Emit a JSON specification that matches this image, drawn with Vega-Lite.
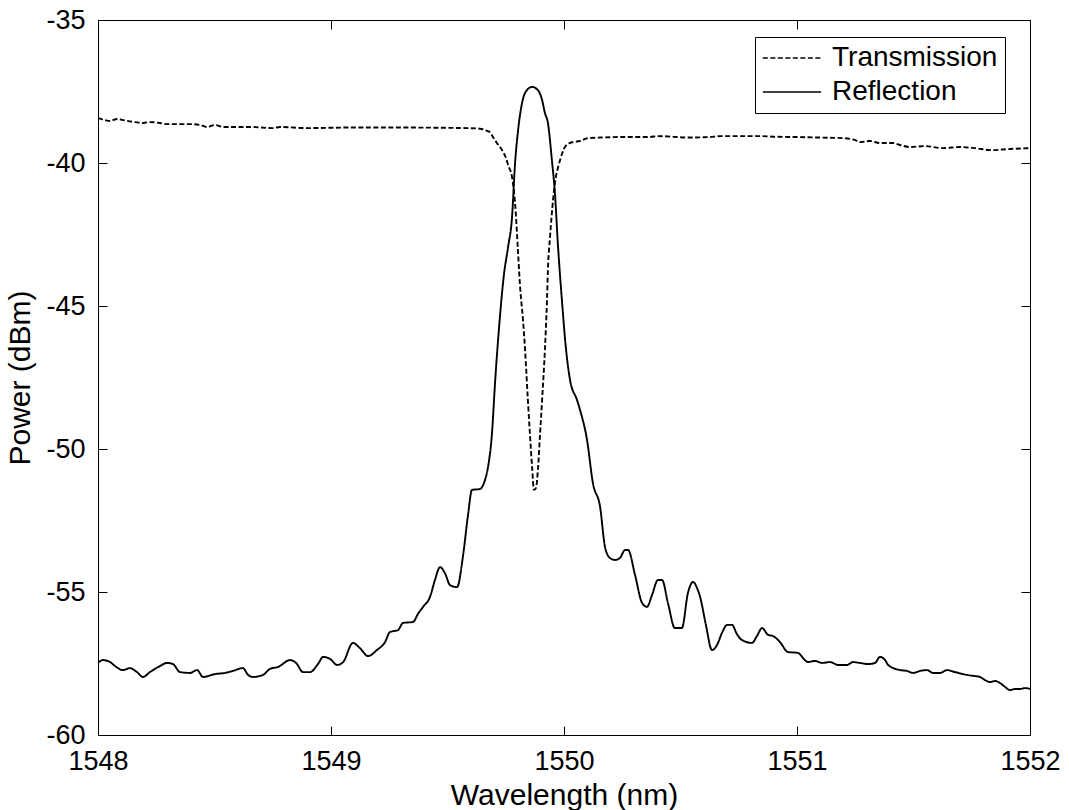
{
  "$schema": "https://vega.github.io/schema/vega-lite/v6.json",
  "width": 932,
  "height": 715,
  "autosize": {"type": "none"},
  "padding": {"left": 98, "top": 20, "right": 39, "bottom": 75},
  "background": "white",
  "config": {
    "view": {"stroke": "black", "strokeWidth": 1},
    "font": "Liberation Sans",
    "axis": {"grid": false, "domainColor": "black", "tickColor": "black", "labelColor": "black", "titleColor": "black", "labelFont": "Liberation Sans", "titleFont": "Liberation Sans", "labelFontSize": 27, "titleFontSize": 30, "titleFontWeight": "normal", "tickSize": -9, "labelPadding": 22, "labelFlush": false, "labelExpr": "toString(datum.value)"}
  },
  "datasets": {
    "spec": [
      {"wl": 1548.000, "p": -38.43, "s": "Transmission"},
      {"wl": 1548.030, "p": -38.50, "s": "Transmission"},
      {"wl": 1548.052, "p": -38.53, "s": "Transmission"},
      {"wl": 1548.082, "p": -38.46, "s": "Transmission"},
      {"wl": 1548.107, "p": -38.50, "s": "Transmission"},
      {"wl": 1548.159, "p": -38.57, "s": "Transmission"},
      {"wl": 1548.193, "p": -38.60, "s": "Transmission"},
      {"wl": 1548.223, "p": -38.57, "s": "Transmission"},
      {"wl": 1548.266, "p": -38.60, "s": "Transmission"},
      {"wl": 1548.296, "p": -38.64, "s": "Transmission"},
      {"wl": 1548.352, "p": -38.64, "s": "Transmission"},
      {"wl": 1548.395, "p": -38.64, "s": "Transmission"},
      {"wl": 1548.438, "p": -38.67, "s": "Transmission"},
      {"wl": 1548.468, "p": -38.74, "s": "Transmission"},
      {"wl": 1548.502, "p": -38.67, "s": "Transmission"},
      {"wl": 1548.536, "p": -38.74, "s": "Transmission"},
      {"wl": 1548.652, "p": -38.74, "s": "Transmission"},
      {"wl": 1548.751, "p": -38.78, "s": "Transmission"},
      {"wl": 1548.781, "p": -38.74, "s": "Transmission"},
      {"wl": 1548.897, "p": -38.78, "s": "Transmission"},
      {"wl": 1549.082, "p": -38.76, "s": "Transmission"},
      {"wl": 1549.296, "p": -38.76, "s": "Transmission"},
      {"wl": 1549.584, "p": -38.78, "s": "Transmission"},
      {"wl": 1549.639, "p": -38.80, "s": "Transmission"},
      {"wl": 1549.670, "p": -38.88, "s": "Transmission"},
      {"wl": 1549.682, "p": -38.92, "s": "Transmission"},
      {"wl": 1549.695, "p": -39.09, "s": "Transmission"},
      {"wl": 1549.712, "p": -39.30, "s": "Transmission"},
      {"wl": 1549.734, "p": -39.55, "s": "Transmission"},
      {"wl": 1549.751, "p": -39.83, "s": "Transmission"},
      {"wl": 1549.760, "p": -40.07, "s": "Transmission"},
      {"wl": 1549.777, "p": -40.49, "s": "Transmission"},
      {"wl": 1549.790, "p": -41.40, "s": "Transmission"},
      {"wl": 1549.803, "p": -43.15, "s": "Transmission"},
      {"wl": 1549.811, "p": -44.27, "s": "Transmission"},
      {"wl": 1549.824, "p": -45.49, "s": "Transmission"},
      {"wl": 1549.833, "p": -46.54, "s": "Transmission"},
      {"wl": 1549.845, "p": -48.29, "s": "Transmission"},
      {"wl": 1549.854, "p": -49.51, "s": "Transmission"},
      {"wl": 1549.863, "p": -50.63, "s": "Transmission"},
      {"wl": 1549.871, "p": -51.43, "s": "Transmission"},
      {"wl": 1549.880, "p": -51.36, "s": "Transmission"},
      {"wl": 1549.888, "p": -50.73, "s": "Transmission"},
      {"wl": 1549.897, "p": -49.51, "s": "Transmission"},
      {"wl": 1549.906, "p": -48.29, "s": "Transmission"},
      {"wl": 1549.918, "p": -46.54, "s": "Transmission"},
      {"wl": 1549.927, "p": -44.79, "s": "Transmission"},
      {"wl": 1549.931, "p": -43.74, "s": "Transmission"},
      {"wl": 1549.940, "p": -42.59, "s": "Transmission"},
      {"wl": 1549.953, "p": -41.29, "s": "Transmission"},
      {"wl": 1549.961, "p": -40.70, "s": "Transmission"},
      {"wl": 1549.974, "p": -40.17, "s": "Transmission"},
      {"wl": 1549.983, "p": -39.90, "s": "Transmission"},
      {"wl": 1550.004, "p": -39.44, "s": "Transmission"},
      {"wl": 1550.026, "p": -39.30, "s": "Transmission"},
      {"wl": 1550.039, "p": -39.27, "s": "Transmission"},
      {"wl": 1550.069, "p": -39.23, "s": "Transmission"},
      {"wl": 1550.103, "p": -39.13, "s": "Transmission"},
      {"wl": 1550.155, "p": -39.11, "s": "Transmission"},
      {"wl": 1550.270, "p": -39.09, "s": "Transmission"},
      {"wl": 1550.369, "p": -39.09, "s": "Transmission"},
      {"wl": 1550.403, "p": -39.06, "s": "Transmission"},
      {"wl": 1550.541, "p": -39.11, "s": "Transmission"},
      {"wl": 1550.627, "p": -39.09, "s": "Transmission"},
      {"wl": 1550.670, "p": -39.06, "s": "Transmission"},
      {"wl": 1550.841, "p": -39.06, "s": "Transmission"},
      {"wl": 1550.906, "p": -39.08, "s": "Transmission"},
      {"wl": 1550.983, "p": -39.09, "s": "Transmission"},
      {"wl": 1551.099, "p": -39.11, "s": "Transmission"},
      {"wl": 1551.197, "p": -39.13, "s": "Transmission"},
      {"wl": 1551.249, "p": -39.20, "s": "Transmission"},
      {"wl": 1551.270, "p": -39.27, "s": "Transmission"},
      {"wl": 1551.313, "p": -39.23, "s": "Transmission"},
      {"wl": 1551.356, "p": -39.30, "s": "Transmission"},
      {"wl": 1551.412, "p": -39.30, "s": "Transmission"},
      {"wl": 1551.442, "p": -39.37, "s": "Transmission"},
      {"wl": 1551.485, "p": -39.44, "s": "Transmission"},
      {"wl": 1551.549, "p": -39.41, "s": "Transmission"},
      {"wl": 1551.627, "p": -39.48, "s": "Transmission"},
      {"wl": 1551.700, "p": -39.44, "s": "Transmission"},
      {"wl": 1551.764, "p": -39.48, "s": "Transmission"},
      {"wl": 1551.833, "p": -39.55, "s": "Transmission"},
      {"wl": 1551.914, "p": -39.51, "s": "Transmission"},
      {"wl": 1552.000, "p": -39.48, "s": "Transmission"},
      {"wl": 1548.000, "p": -57.48, "s": "Reflection"},
      {"wl": 1548.021, "p": -57.38, "s": "Reflection"},
      {"wl": 1548.052, "p": -57.45, "s": "Reflection"},
      {"wl": 1548.073, "p": -57.59, "s": "Reflection"},
      {"wl": 1548.107, "p": -57.73, "s": "Reflection"},
      {"wl": 1548.137, "p": -57.66, "s": "Reflection"},
      {"wl": 1548.167, "p": -57.80, "s": "Reflection"},
      {"wl": 1548.193, "p": -57.97, "s": "Reflection"},
      {"wl": 1548.223, "p": -57.80, "s": "Reflection"},
      {"wl": 1548.266, "p": -57.59, "s": "Reflection"},
      {"wl": 1548.296, "p": -57.48, "s": "Reflection"},
      {"wl": 1548.322, "p": -57.52, "s": "Reflection"},
      {"wl": 1548.352, "p": -57.80, "s": "Reflection"},
      {"wl": 1548.395, "p": -57.83, "s": "Reflection"},
      {"wl": 1548.425, "p": -57.73, "s": "Reflection"},
      {"wl": 1548.451, "p": -57.97, "s": "Reflection"},
      {"wl": 1548.502, "p": -57.87, "s": "Reflection"},
      {"wl": 1548.545, "p": -57.83, "s": "Reflection"},
      {"wl": 1548.579, "p": -57.76, "s": "Reflection"},
      {"wl": 1548.622, "p": -57.66, "s": "Reflection"},
      {"wl": 1548.644, "p": -57.90, "s": "Reflection"},
      {"wl": 1548.665, "p": -57.97, "s": "Reflection"},
      {"wl": 1548.708, "p": -57.90, "s": "Reflection"},
      {"wl": 1548.738, "p": -57.69, "s": "Reflection"},
      {"wl": 1548.773, "p": -57.62, "s": "Reflection"},
      {"wl": 1548.824, "p": -57.38, "s": "Reflection"},
      {"wl": 1548.850, "p": -57.48, "s": "Reflection"},
      {"wl": 1548.880, "p": -57.80, "s": "Reflection"},
      {"wl": 1548.910, "p": -57.80, "s": "Reflection"},
      {"wl": 1548.944, "p": -57.52, "s": "Reflection"},
      {"wl": 1548.966, "p": -57.27, "s": "Reflection"},
      {"wl": 1548.996, "p": -57.34, "s": "Reflection"},
      {"wl": 1549.026, "p": -57.55, "s": "Reflection"},
      {"wl": 1549.052, "p": -57.45, "s": "Reflection"},
      {"wl": 1549.094, "p": -56.78, "s": "Reflection"},
      {"wl": 1549.124, "p": -56.96, "s": "Reflection"},
      {"wl": 1549.159, "p": -57.24, "s": "Reflection"},
      {"wl": 1549.197, "p": -57.03, "s": "Reflection"},
      {"wl": 1549.232, "p": -56.75, "s": "Reflection"},
      {"wl": 1549.253, "p": -56.40, "s": "Reflection"},
      {"wl": 1549.288, "p": -56.33, "s": "Reflection"},
      {"wl": 1549.309, "p": -56.08, "s": "Reflection"},
      {"wl": 1549.352, "p": -56.05, "s": "Reflection"},
      {"wl": 1549.373, "p": -55.77, "s": "Reflection"},
      {"wl": 1549.395, "p": -55.52, "s": "Reflection"},
      {"wl": 1549.425, "p": -55.17, "s": "Reflection"},
      {"wl": 1549.446, "p": -54.58, "s": "Reflection"},
      {"wl": 1549.468, "p": -54.13, "s": "Reflection"},
      {"wl": 1549.489, "p": -54.34, "s": "Reflection"},
      {"wl": 1549.511, "p": -54.76, "s": "Reflection"},
      {"wl": 1549.541, "p": -54.83, "s": "Reflection"},
      {"wl": 1549.567, "p": -53.71, "s": "Reflection"},
      {"wl": 1549.588, "p": -52.31, "s": "Reflection"},
      {"wl": 1549.605, "p": -51.43, "s": "Reflection"},
      {"wl": 1549.639, "p": -51.40, "s": "Reflection"},
      {"wl": 1549.661, "p": -51.08, "s": "Reflection"},
      {"wl": 1549.674, "p": -50.63, "s": "Reflection"},
      {"wl": 1549.691, "p": -49.44, "s": "Reflection"},
      {"wl": 1549.704, "p": -47.69, "s": "Reflection"},
      {"wl": 1549.725, "p": -45.38, "s": "Reflection"},
      {"wl": 1549.742, "p": -43.92, "s": "Reflection"},
      {"wl": 1549.760, "p": -42.94, "s": "Reflection"},
      {"wl": 1549.777, "p": -41.89, "s": "Reflection"},
      {"wl": 1549.790, "p": -40.00, "s": "Reflection"},
      {"wl": 1549.803, "p": -38.85, "s": "Reflection"},
      {"wl": 1549.820, "p": -37.90, "s": "Reflection"},
      {"wl": 1549.841, "p": -37.45, "s": "Reflection"},
      {"wl": 1549.863, "p": -37.34, "s": "Reflection"},
      {"wl": 1549.888, "p": -37.45, "s": "Reflection"},
      {"wl": 1549.906, "p": -37.80, "s": "Reflection"},
      {"wl": 1549.918, "p": -38.25, "s": "Reflection"},
      {"wl": 1549.931, "p": -38.60, "s": "Reflection"},
      {"wl": 1549.948, "p": -39.90, "s": "Reflection"},
      {"wl": 1549.961, "p": -41.05, "s": "Reflection"},
      {"wl": 1549.974, "p": -42.87, "s": "Reflection"},
      {"wl": 1549.991, "p": -44.79, "s": "Reflection"},
      {"wl": 1550.009, "p": -46.54, "s": "Reflection"},
      {"wl": 1550.026, "p": -47.59, "s": "Reflection"},
      {"wl": 1550.056, "p": -48.29, "s": "Reflection"},
      {"wl": 1550.069, "p": -48.64, "s": "Reflection"},
      {"wl": 1550.099, "p": -49.69, "s": "Reflection"},
      {"wl": 1550.124, "p": -51.19, "s": "Reflection"},
      {"wl": 1550.155, "p": -52.03, "s": "Reflection"},
      {"wl": 1550.176, "p": -53.43, "s": "Reflection"},
      {"wl": 1550.197, "p": -53.81, "s": "Reflection"},
      {"wl": 1550.219, "p": -53.88, "s": "Reflection"},
      {"wl": 1550.240, "p": -53.81, "s": "Reflection"},
      {"wl": 1550.262, "p": -53.53, "s": "Reflection"},
      {"wl": 1550.275, "p": -53.53, "s": "Reflection"},
      {"wl": 1550.305, "p": -54.41, "s": "Reflection"},
      {"wl": 1550.335, "p": -55.38, "s": "Reflection"},
      {"wl": 1550.356, "p": -55.52, "s": "Reflection"},
      {"wl": 1550.378, "p": -55.10, "s": "Reflection"},
      {"wl": 1550.403, "p": -54.58, "s": "Reflection"},
      {"wl": 1550.421, "p": -54.58, "s": "Reflection"},
      {"wl": 1550.446, "p": -55.38, "s": "Reflection"},
      {"wl": 1550.476, "p": -56.26, "s": "Reflection"},
      {"wl": 1550.506, "p": -56.26, "s": "Reflection"},
      {"wl": 1550.532, "p": -55.03, "s": "Reflection"},
      {"wl": 1550.554, "p": -54.65, "s": "Reflection"},
      {"wl": 1550.571, "p": -54.86, "s": "Reflection"},
      {"wl": 1550.584, "p": -55.17, "s": "Reflection"},
      {"wl": 1550.609, "p": -56.15, "s": "Reflection"},
      {"wl": 1550.635, "p": -57.03, "s": "Reflection"},
      {"wl": 1550.657, "p": -56.85, "s": "Reflection"},
      {"wl": 1550.678, "p": -56.43, "s": "Reflection"},
      {"wl": 1550.700, "p": -56.15, "s": "Reflection"},
      {"wl": 1550.721, "p": -56.15, "s": "Reflection"},
      {"wl": 1550.742, "p": -56.47, "s": "Reflection"},
      {"wl": 1550.764, "p": -56.68, "s": "Reflection"},
      {"wl": 1550.807, "p": -56.78, "s": "Reflection"},
      {"wl": 1550.828, "p": -56.54, "s": "Reflection"},
      {"wl": 1550.850, "p": -56.26, "s": "Reflection"},
      {"wl": 1550.876, "p": -56.50, "s": "Reflection"},
      {"wl": 1550.897, "p": -56.54, "s": "Reflection"},
      {"wl": 1550.927, "p": -56.75, "s": "Reflection"},
      {"wl": 1550.961, "p": -57.10, "s": "Reflection"},
      {"wl": 1551.004, "p": -57.13, "s": "Reflection"},
      {"wl": 1551.034, "p": -57.38, "s": "Reflection"},
      {"wl": 1551.047, "p": -57.45, "s": "Reflection"},
      {"wl": 1551.077, "p": -57.41, "s": "Reflection"},
      {"wl": 1551.107, "p": -57.48, "s": "Reflection"},
      {"wl": 1551.142, "p": -57.45, "s": "Reflection"},
      {"wl": 1551.176, "p": -57.55, "s": "Reflection"},
      {"wl": 1551.215, "p": -57.55, "s": "Reflection"},
      {"wl": 1551.240, "p": -57.45, "s": "Reflection"},
      {"wl": 1551.270, "p": -57.48, "s": "Reflection"},
      {"wl": 1551.305, "p": -57.52, "s": "Reflection"},
      {"wl": 1551.335, "p": -57.48, "s": "Reflection"},
      {"wl": 1551.356, "p": -57.27, "s": "Reflection"},
      {"wl": 1551.378, "p": -57.38, "s": "Reflection"},
      {"wl": 1551.391, "p": -57.55, "s": "Reflection"},
      {"wl": 1551.442, "p": -57.73, "s": "Reflection"},
      {"wl": 1551.472, "p": -57.76, "s": "Reflection"},
      {"wl": 1551.498, "p": -57.83, "s": "Reflection"},
      {"wl": 1551.528, "p": -57.76, "s": "Reflection"},
      {"wl": 1551.558, "p": -57.73, "s": "Reflection"},
      {"wl": 1551.584, "p": -57.83, "s": "Reflection"},
      {"wl": 1551.614, "p": -57.83, "s": "Reflection"},
      {"wl": 1551.644, "p": -57.73, "s": "Reflection"},
      {"wl": 1551.678, "p": -57.80, "s": "Reflection"},
      {"wl": 1551.730, "p": -57.90, "s": "Reflection"},
      {"wl": 1551.764, "p": -57.94, "s": "Reflection"},
      {"wl": 1551.785, "p": -57.97, "s": "Reflection"},
      {"wl": 1551.807, "p": -58.08, "s": "Reflection"},
      {"wl": 1551.828, "p": -58.15, "s": "Reflection"},
      {"wl": 1551.850, "p": -58.11, "s": "Reflection"},
      {"wl": 1551.871, "p": -58.18, "s": "Reflection"},
      {"wl": 1551.893, "p": -58.32, "s": "Reflection"},
      {"wl": 1551.914, "p": -58.43, "s": "Reflection"},
      {"wl": 1551.936, "p": -58.39, "s": "Reflection"},
      {"wl": 1551.957, "p": -58.39, "s": "Reflection"},
      {"wl": 1551.979, "p": -58.36, "s": "Reflection"},
      {"wl": 1552.000, "p": -58.39, "s": "Reflection"}
    ]
  },
  "data": {"name": "spec"},
  "layer": [
    {
      "mark": {"type": "line", "color": "black", "strokeWidth": 1.9, "clip": true, "interpolate": "monotone"},
      "encoding": {
        "x": {"field": "wl", "type": "quantitative", "scale": {"domain": [1548, 1552], "nice": false, "zero": false},
              "axis": {"orient": "bottom", "title": "Wavelength (nm)", "values": [1548, 1549, 1550, 1551, 1552], "titlePadding": 6}},
        "y": {"field": "p", "type": "quantitative", "scale": {"domain": [-60, -35], "nice": false, "zero": false},
              "axis": {"orient": "left", "title": "Power (dBm)", "values": [-60, -55, -50, -45, -40, -35], "titlePadding": 10}},
        "strokeDash": {"field": "s", "type": "nominal",
              "scale": {"domain": ["Transmission", "Reflection"], "range": [[5, 2.5], [1, 0]]},
              "legend": {"title": null, "orient": "none", "legendX": 657, "legendY": 17, "strokeColor": "black", "fillColor": "white", "padding": 7, "symbolType": "stroke", "symbolSize": 3400, "symbolStrokeWidth": 1.5, "symbolStrokeColor": "black", "labelFontSize": 28, "labelFont": "Liberation Sans", "labelColor": "black", "labelLimit": 400, "rowPadding": 6, "labelOffset": 10, "clipHeight": 28}}
      }
    },
    {
      "mark": {"type": "line", "opacity": 0},
      "encoding": {
        "x": {"field": "wl", "type": "quantitative", "axis": {"orient": "top", "title": null, "labels": false, "values": [1548, 1549, 1550, 1551, 1552]}},
        "y": {"field": "p", "type": "quantitative", "axis": {"orient": "right", "title": null, "labels": false, "values": [-60, -55, -50, -45, -40, -35]}},
        "detail": {"field": "s"}
      }
    }
  ],
  "resolve": {"axis": {"x": "independent", "y": "independent"}}
}
